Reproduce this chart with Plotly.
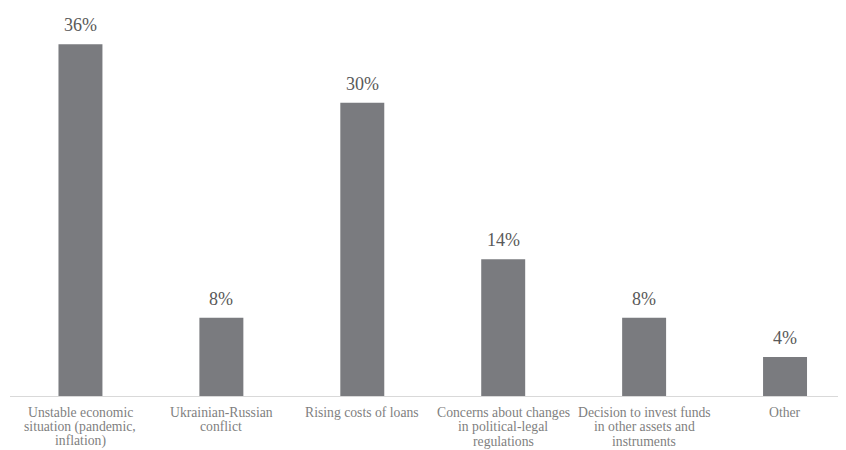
import plotly.graph_objects as go

categories = [
    "Unstable economic<br>situation (pandemic,<br>inflation)",
    "Ukrainian-Russian<br>conflict",
    "Rising costs of loans",
    "Concerns about changes<br>in political-legal<br>regulations",
    "Decision to invest funds<br>in other assets and<br>instruments",
    "Other",
]
values = [36, 8, 30, 14, 8, 4]
labels = [f"{v}%" for v in values]

SERIF = "Liberation Serif"
xs = list(range(len(categories)))

fig = go.Figure(go.Bar(
    x=xs,
    y=values,
    marker=dict(color="#7a7b7f", line=dict(width=0)),
    width=0.312,
    cliponaxis=False,
))

# value labels above bars
for xi, v, lab in zip(xs, values, labels):
    fig.add_annotation(
        x=xi, y=v, xref="x", yref="y", text=lab, showarrow=False,
        yanchor="bottom", yshift=7,
        font=dict(family=SERIF, size=18, color="#595959"),
    )

# category labels (one annotation per line, tight line spacing)
for xi, cat in zip(xs, categories):
    for k, line in enumerate(cat.split("<br>")):
        fig.add_annotation(
            x=xi, y=0, xref="x", yref="y", text=line, showarrow=False,
            yanchor="middle", yshift=-16.5 - 14.3 * k,
            font=dict(family=SERIF, size=13.7, color="#7f7f7f"),
        )

fig.update_layout(
    width=838, height=442,
    margin=dict(l=1.5, r=0, t=0, b=54, autoexpand=False),
    paper_bgcolor="white", plot_bgcolor="white",
    showlegend=False,
    font=dict(family=SERIF),
    xaxis=dict(
        range=[-0.5, 5.5 - 9.5 / 141],
        showgrid=False, zeroline=False,
        showline=True, linecolor="#d9d9d9", linewidth=1,
        ticks="", showticklabels=False,
    ),
    yaxis=dict(
        range=[0, 39.7],
        showgrid=False, zeroline=False, showline=False,
        showticklabels=False, ticks="",
    ),
)

fig.write_html("out.html")
